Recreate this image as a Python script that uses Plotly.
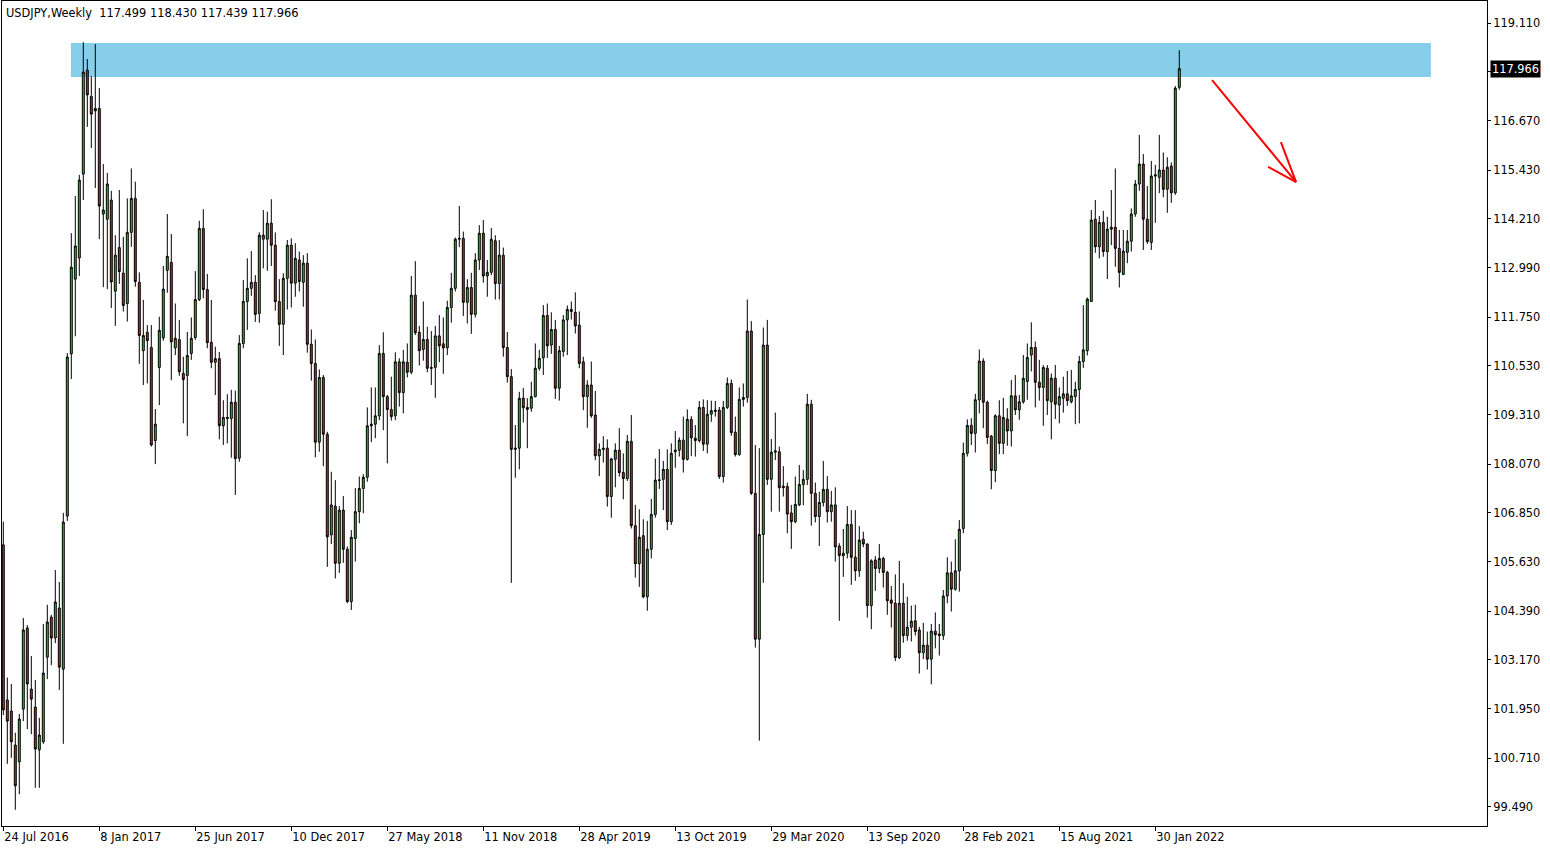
import plotly.graph_objects as go

# ---------------- data (weekly USDJPY, index 0 = week of 24 Jul 2016) ----------------
opens = [106.05, 102.17, 101.89, 101.04, 100.62, 101.94, 103.97, 102.44, 101.99, 100.92,
         101.12, 103.24, 104.24, 103.72, 104.47, 102.94, 106.77, 110.83, 112.70, 113.23,
         115.33, 117.93, 117.27, 116.91, 116.97, 114.33, 114.20, 114.68, 112.40, 113.49,
         112.85, 112.09, 113.87, 114.72, 112.62, 110.91, 111.37, 110.99, 108.66, 110.49,
         111.23, 112.92, 113.12, 110.98, 111.19, 110.34, 110.29, 110.84, 111.24, 112.19,
         113.97, 112.44, 111.12, 110.62, 110.71, 109.03, 109.21, 109.21, 109.62, 108.22,
         111.09, 112.14, 112.47, 112.62, 111.84, 113.70, 113.70, 114.10, 113.55, 112.14,
         111.57, 112.72, 113.55, 112.60, 113.18, 112.62, 113.10, 111.07, 110.59, 108.62,
         110.24, 108.82, 106.30, 107.02, 105.59, 106.92, 105.94, 104.63, 106.21, 106.88,
         107.46, 107.74, 109.03, 109.07, 109.28, 110.84, 109.76, 109.44, 109.28, 110.63,
         109.86, 110.62, 110.37, 112.30, 111.37, 110.94, 111.19, 110.49, 110.49, 111.28,
         111.08, 110.98, 111.99, 112.47, 113.70, 113.72, 112.12, 112.49, 111.82, 113.18,
         113.85, 112.78, 112.87, 113.66, 112.59, 113.30, 110.99, 110.26, 108.44, 108.47,
         109.72, 109.49, 109.47, 109.76, 110.47, 110.73, 111.79, 111.05, 111.44, 109.97,
         110.89, 111.68, 111.94, 111.87, 111.55, 110.63, 109.76, 110.05, 109.30, 108.28,
         108.47, 108.47, 107.26, 108.19, 108.42, 107.86, 107.71, 108.64, 106.53, 105.58,
         106.28, 104.75, 105.94, 106.81, 107.68, 107.69, 107.94, 106.63, 108.38, 108.42,
         108.67, 108.19, 109.19, 108.72, 108.66, 109.49, 108.57, 109.32, 109.39, 109.42,
         107.76, 109.49, 110.09, 108.87, 108.31, 109.69, 109.74, 111.40, 107.34, 103.69,
         106.31, 111.05, 107.69, 108.37, 108.38, 107.52, 107.51, 106.85, 106.63, 107.05,
         107.56, 107.69, 109.57, 107.34, 106.76, 107.11, 107.44, 106.88, 107.05, 106.02,
         105.78, 105.84, 106.56, 105.74, 105.40, 106.19, 106.07, 104.53, 105.67, 105.46,
         105.71, 105.36, 104.67, 104.59, 103.23, 104.59, 103.78, 103.99, 104.15, 103.92,
         103.35, 103.54, 103.19, 103.89, 103.82, 103.78, 104.77, 105.35, 104.94, 105.40,
         106.46, 108.34, 109.04, 108.84, 109.68, 110.65, 109.62, 108.77, 107.91, 109.28,
         108.59, 109.20, 108.90, 109.78, 109.43, 109.63, 110.14, 110.80, 110.99, 110.12,
         109.99, 110.47, 109.63, 110.22, 109.55, 109.72, 109.83, 109.63, 109.76, 109.94,
         110.64, 110.91, 112.14, 114.20, 113.51, 114.12, 113.39, 113.95, 114.00, 113.47,
         112.82, 113.37, 113.65, 114.33, 115.08, 115.58, 114.20, 113.62, 115.28, 115.25,
         115.43, 114.95, 115.53, 114.86, 117.499]

highs = [106.63, 102.73, 102.57, 101.35, 101.82, 104.22, 104.04, 103.27, 102.67, 101.72,
         104.07, 104.55, 104.30, 105.42, 105.12, 106.85, 110.85, 113.85, 114.78, 115.31,
         118.63, 118.21, 117.78, 118.58, 117.48, 115.58, 115.36, 114.91, 113.80, 114.93,
         113.76, 114.72, 115.47, 115.14, 112.87, 112.18, 111.55, 111.55, 109.45, 111.76,
         113.03, 114.33, 113.83, 112.09, 111.68, 110.76, 111.38, 111.74, 112.90, 114.16,
         114.45, 112.83, 112.18, 111.01, 110.88, 109.67, 109.82, 109.93, 109.91, 111.30,
         112.68, 113.22, 113.40, 112.80, 113.87, 114.43, 114.39, 114.70, 113.87, 112.70,
         112.85, 113.68, 113.72, 113.60, 113.39, 113.30, 113.35, 111.44, 111.19, 110.44,
         110.30, 108.88, 107.88, 107.67, 107.02, 107.27, 106.01, 106.42, 107.47, 107.76,
         107.82, 109.49, 109.99, 109.99, 111.05, 111.37, 109.80, 110.26, 110.87, 110.72,
         110.93, 111.09, 112.78, 113.15, 111.53, 112.14, 111.51, 111.40, 111.53, 111.80,
         111.74, 112.16, 112.86, 113.74, 114.53, 113.89, 112.70, 112.86, 113.35, 114.05,
         114.18, 113.18, 113.98, 113.80, 113.68, 113.49, 111.38, 110.45, 109.05, 109.88,
         109.98, 109.72, 110.13, 111.09, 110.93, 112.05, 112.09, 111.87, 111.68, 111.03,
         111.80, 112.04, 112.14, 112.37, 111.89, 110.76, 110.17, 110.64, 109.90, 108.59,
         108.77, 108.69, 108.23, 108.59, 108.97, 108.34, 108.80, 109.30, 107.05, 106.94,
         106.69, 106.65, 107.20, 108.21, 108.45, 108.15, 108.44, 108.59, 108.90, 108.74,
         109.26, 109.44, 109.27, 109.05, 109.65, 109.69, 109.67, 109.66, 109.65, 109.50,
         109.65, 110.24, 110.19, 109.26, 109.99, 110.09, 112.19, 111.65, 108.55, 108.47,
         111.49, 111.68, 108.70, 109.36, 108.51, 108.02, 107.61, 107.05, 107.76, 108.05,
         107.92, 109.83, 109.68, 107.61, 107.38, 108.15, 107.77, 107.40, 107.49, 106.09,
         106.45, 107.02, 106.92, 106.92, 106.52, 106.38, 106.09, 105.69, 105.77, 106.07,
         105.75, 105.40, 105.02, 105.31, 105.65, 105.09, 104.75, 104.53, 104.55, 104.00,
         104.10, 103.88, 104.07, 104.36, 104.07, 104.92, 105.74, 105.63, 106.19, 106.67,
         108.61, 109.19, 109.22, 109.83, 110.94, 110.72, 109.66, 108.80, 109.32, 109.67,
         109.73, 109.47, 110.18, 110.30, 109.80, 110.80, 111.09, 111.62, 111.14, 110.68,
         110.55, 110.55, 110.34, 110.55, 109.99, 110.26, 110.40, 110.43, 110.13, 110.78,
         112.05, 112.24, 114.43, 114.68, 114.28, 114.41, 114.26, 114.93, 115.47, 113.93,
         113.93, 113.93, 114.47, 115.18, 116.31, 115.83, 115.03, 115.66, 115.56, 116.31,
         115.87, 115.75, 115.62, 117.53, 118.430]

lows = [101.79, 100.57, 100.72, 99.42, 99.81, 101.64, 101.44, 101.31, 99.97, 99.97,
        101.07, 102.69, 103.04, 103.59, 102.42, 101.07, 106.65, 110.20, 111.27, 112.78,
        114.68, 116.51, 115.98, 114.98, 113.70, 112.50, 112.45, 111.98, 111.53, 112.58,
        111.89, 111.64, 113.51, 112.51, 110.58, 110.05, 110.09, 108.51, 108.07, 109.55,
        111.16, 112.36, 110.17, 110.80, 110.28, 109.09, 108.77, 110.68, 111.18, 112.15,
        112.22, 110.97, 110.47, 109.80, 108.69, 108.55, 108.59, 108.23, 107.30, 108.13,
        110.97, 111.43, 112.28, 111.63, 111.61, 112.97, 112.91, 113.03, 111.91, 111.03,
        110.80, 111.94, 111.99, 112.26, 112.39, 112.01, 110.86, 110.16, 108.24, 108.38,
        108.02, 105.50, 106.07, 105.21, 105.35, 105.60, 104.59, 104.42, 105.63, 106.59,
        106.84, 107.63, 108.62, 108.72, 109.17, 108.92, 108.09, 109.16, 109.17, 109.51,
        109.34, 110.24, 110.32, 111.30, 110.54, 110.66, 110.37, 110.05, 109.73, 110.62,
        110.33, 110.80, 111.61, 112.39, 113.50, 111.78, 111.59, 111.33, 111.74, 112.93,
        112.61, 112.26, 112.80, 112.19, 112.19, 110.76, 110.11, 105.10, 107.73, 107.94,
        109.11, 108.47, 109.38, 109.74, 110.41, 110.30, 110.73, 110.83, 109.70, 109.66,
        110.76, 110.80, 111.69, 111.34, 110.47, 109.42, 108.98, 109.23, 108.17, 107.77,
        108.11, 107.01, 106.73, 107.49, 107.76, 107.19, 107.65, 106.46, 105.23, 105.00,
        104.71, 104.40, 105.71, 106.73, 107.45, 106.92, 106.42, 106.55, 107.98, 108.26,
        107.86, 108.16, 108.27, 108.26, 108.61, 108.40, 108.34, 109.13, 109.26, 107.70,
        107.61, 109.45, 108.78, 108.26, 108.28, 109.51, 109.61, 107.30, 103.48, 101.15,
        105.10, 107.55, 106.88, 108.17, 106.88, 107.26, 106.34, 105.95, 106.59, 107.02,
        107.04, 107.55, 106.53, 106.61, 106.02, 107.01, 106.61, 106.63, 105.63, 104.15,
        105.25, 105.71, 105.05, 105.15, 105.25, 105.99, 104.23, 103.94, 104.90, 105.34,
        104.98, 104.30, 103.98, 103.14, 103.19, 103.60, 103.65, 103.63, 103.78, 102.83,
        103.19, 102.93, 102.56, 103.46, 103.28, 103.67, 104.59, 104.38, 104.90, 104.88,
        106.34, 108.26, 108.55, 108.36, 109.34, 108.97, 108.57, 107.44, 107.62, 108.32,
        108.32, 108.53, 108.51, 109.30, 109.18, 109.58, 109.68, 110.39, 109.49, 109.66,
        109.03, 109.30, 108.69, 109.20, 109.09, 109.36, 109.53, 109.59, 109.07, 109.09,
        110.48, 110.79, 112.14, 113.36, 113.22, 113.26, 112.70, 113.55, 113.01, 112.49,
        112.80, 113.10, 113.39, 114.26, 114.91, 113.43, 113.58, 113.43, 114.11, 114.85,
        114.75, 114.36, 114.61, 114.81, 117.439]

closes = [101.92, 101.64, 101.12, 100.02, 101.69, 103.92, 102.57, 102.19, 100.94, 101.29,
          102.84, 104.12, 103.72, 104.62, 102.99, 106.62, 110.75, 113.00, 113.53, 115.18,
          117.88, 117.31, 116.83, 116.97, 114.53, 114.43, 115.08, 112.63, 113.30, 112.89,
          112.04, 113.87, 114.72, 112.64, 111.29, 111.29, 111.16, 108.55, 109.07, 111.42,
          112.45, 113.27, 111.13, 111.22, 110.38, 110.19, 110.79, 111.22, 112.19, 113.97,
          112.44, 111.11, 110.62, 110.71, 109.03, 109.24, 109.24, 109.62, 108.21, 111.09,
          112.14, 112.47, 112.62, 111.82, 113.80, 113.80, 114.10, 113.55, 112.14, 111.57,
          112.72, 113.55, 112.60, 113.22, 112.64, 113.10, 111.07, 110.59, 108.62, 110.24,
          108.82, 106.25, 107.05, 105.59, 106.92, 105.94, 104.63, 106.24, 106.88, 107.46,
          107.74, 109.03, 109.07, 109.28, 110.84, 109.76, 109.44, 109.26, 110.63, 109.86,
          110.63, 110.37, 112.30, 111.36, 110.91, 111.19, 110.47, 110.47, 111.28, 111.03,
          110.98, 111.99, 112.47, 113.70, 113.72, 112.12, 112.49, 111.82, 113.18, 113.85,
          112.78, 112.87, 113.70, 112.59, 113.30, 110.99, 110.26, 108.44, 108.47, 109.72,
          109.48, 109.44, 109.76, 110.47, 110.72, 111.79, 111.03, 111.44, 109.97, 110.91,
          111.68, 111.94, 111.89, 111.53, 110.59, 109.76, 110.05, 109.28, 108.28, 108.44,
          108.44, 107.26, 108.20, 108.42, 107.86, 107.71, 108.64, 106.53, 105.58, 106.24,
          104.75, 105.94, 106.81, 107.67, 107.66, 107.94, 106.63, 108.34, 108.42, 108.67,
          108.19, 109.19, 108.73, 108.66, 109.49, 108.57, 109.32, 109.41, 109.42, 107.76,
          109.49, 110.09, 108.86, 108.31, 109.69, 109.74, 111.40, 107.34, 103.69, 106.31,
          111.05, 107.69, 108.37, 108.40, 107.48, 107.48, 106.82, 106.63, 107.06, 107.56,
          107.69, 109.57, 107.34, 106.76, 107.11, 107.44, 106.88, 107.05, 106.00, 105.78,
          105.84, 106.56, 105.74, 105.40, 106.17, 106.07, 104.53, 105.65, 105.46, 105.71,
          105.36, 104.65, 104.59, 103.23, 104.59, 103.78, 103.99, 104.14, 103.88, 103.35,
          103.54, 103.19, 103.89, 103.80, 103.78, 104.77, 105.35, 104.94, 105.40, 106.44,
          108.34, 109.04, 108.84, 109.68, 110.65, 109.62, 108.74, 107.91, 109.28, 108.59,
          109.24, 108.90, 109.78, 109.43, 109.63, 110.22, 110.74, 110.99, 110.12, 109.99,
          110.49, 109.66, 110.22, 109.57, 109.76, 109.83, 109.66, 109.78, 109.94, 110.64,
          110.93, 112.20, 114.18, 113.51, 114.12, 113.39, 113.95, 114.00, 113.47, 112.87,
          113.40, 113.65, 114.33, 115.08, 115.58, 114.20, 113.64, 115.28, 115.31, 115.43,
          114.95, 115.50, 114.86, 117.48, 117.966]

tick_index = [0, 24, 48, 72, 96, 120, 144, 168, 192, 216, 240, 264, 288]
tick_labels = ["24 Jul 2016", "8 Jan 2017", "25 Jun 2017", "10 Dec 2017", "27 May 2018",
               "11 Nov 2018", "28 Apr 2019", "13 Oct 2019", "29 Mar 2020", "13 Sep 2020",
               "28 Feb 2021", "15 Aug 2021", "30 Jan 2022"]
price_ticks = [119.110, 117.890, 116.670, 115.430, 114.210, 112.990, 111.750, 110.530,
               109.310, 108.070, 106.850, 105.630, 104.390, 103.170, 101.950, 100.710, 99.490]

symbol = "USDJPY,Weekly"
last_bar = {"open": 117.499, "high": 118.430, "low": 117.439, "close": 117.966}

# resistance zone and the drawn arrow (bar index / price)
zone = {"x0": 16.9, "x1": 356.9, "y0": 117.76, "y1": 118.61}
arrow_tail = (302.2, 117.68)
arrow_tip = (323.2, 115.13)
arrow_barbs = [(316.2, 115.51), (319.4, 116.13)]

# ---------------- figure ----------------
x = list(range(len(closes)))

fig = go.Figure(go.Candlestick(
    x=x, open=opens, high=highs, low=lows, close=closes,
    increasing=dict(line=dict(color="black", width=1), fillcolor="#22CC22"),
    decreasing=dict(line=dict(color="black", width=1), fillcolor="#DD2222"),
    whiskerwidth=0, hoverinfo="skip", showlegend=False,
))

fig.add_shape(type="rect", xref="x", yref="y", x0=zone["x0"], x1=zone["x1"],
              y0=zone["y0"], y1=zone["y1"], fillcolor="#87CEEB", line=dict(width=0),
              layer="below")

red = "#FF0000"
fig.add_shape(type="line", xref="x", yref="y", x0=arrow_tail[0], y0=arrow_tail[1],
              x1=arrow_tip[0], y1=arrow_tip[1], line=dict(color=red, width=2))
for bx, by in arrow_barbs:
    fig.add_shape(type="line", xref="x", yref="y", x0=bx, y0=by,
                  x1=arrow_tip[0], y1=arrow_tip[1], line=dict(color=red, width=2))

font_family = "DejaVu Sans"

fig.add_annotation(
    xref="paper", yref="paper", x=0, y=1, xanchor="left", yanchor="top",
    xshift=2, yshift=-3, showarrow=False, align="left",
    text=f"{symbol}\u00a0 {last_bar['open']:.3f} {last_bar['high']:.3f} "
         f"{last_bar['low']:.3f} {last_bar['close']:.3f}",
    font=dict(family=font_family, size=11.4, color="black"),
)

fig.add_annotation(
    xref="paper", yref="y", x=1, y=last_bar["close"], xanchor="left", yanchor="middle",
    xshift=3, showarrow=False, text=f"{last_bar['close']:.3f}",
    bgcolor="black", borderpad=1,
    font=dict(family=font_family, size=11.4, color="white"),
)

# the 117.890 label sits underneath the current-price box in the reference
price_tick_text = ["" if abs(v - 117.890) < 1e-6 else f"{v:.3f}" for v in price_ticks]

fig.update_layout(
    width=1550, height=850,
    margin=dict(l=2, r=63, t=1, b=24),
    paper_bgcolor="white", plot_bgcolor="white",
    font=dict(family=font_family, size=11, color="black"),
    showlegend=False,
    hovermode=False,
    xaxis=dict(
        range=[-0.325, 370.925], rangeslider=dict(visible=False),
        showgrid=False, zeroline=False,
        tickmode="array", tickvals=tick_index, ticktext=tick_labels,
        ticks="outside", ticklen=4, tickwidth=1, tickcolor="black",
        ticklabelposition="outside right",
        showline=True, linecolor="black", linewidth=1, mirror=True,
        tickfont=dict(family=font_family, size=11.4, color="black"),
    ),
    yaxis=dict(
        side="right", range=[99.014, 119.661],
        showgrid=False, zeroline=False,
        tickmode="array", tickvals=price_ticks, ticktext=price_tick_text,
        ticks="outside", ticklen=3, tickwidth=1, tickcolor="black",
        showline=True, linecolor="black", linewidth=1, mirror=True,
        tickfont=dict(family=font_family, size=11.4, color="black"),
    ),
)

fig.write_html(
    "out.html",
    config={"displayModeBar": False},
    post_script="document.body.style.margin='0';document.body.style.overflow='hidden';",
)
